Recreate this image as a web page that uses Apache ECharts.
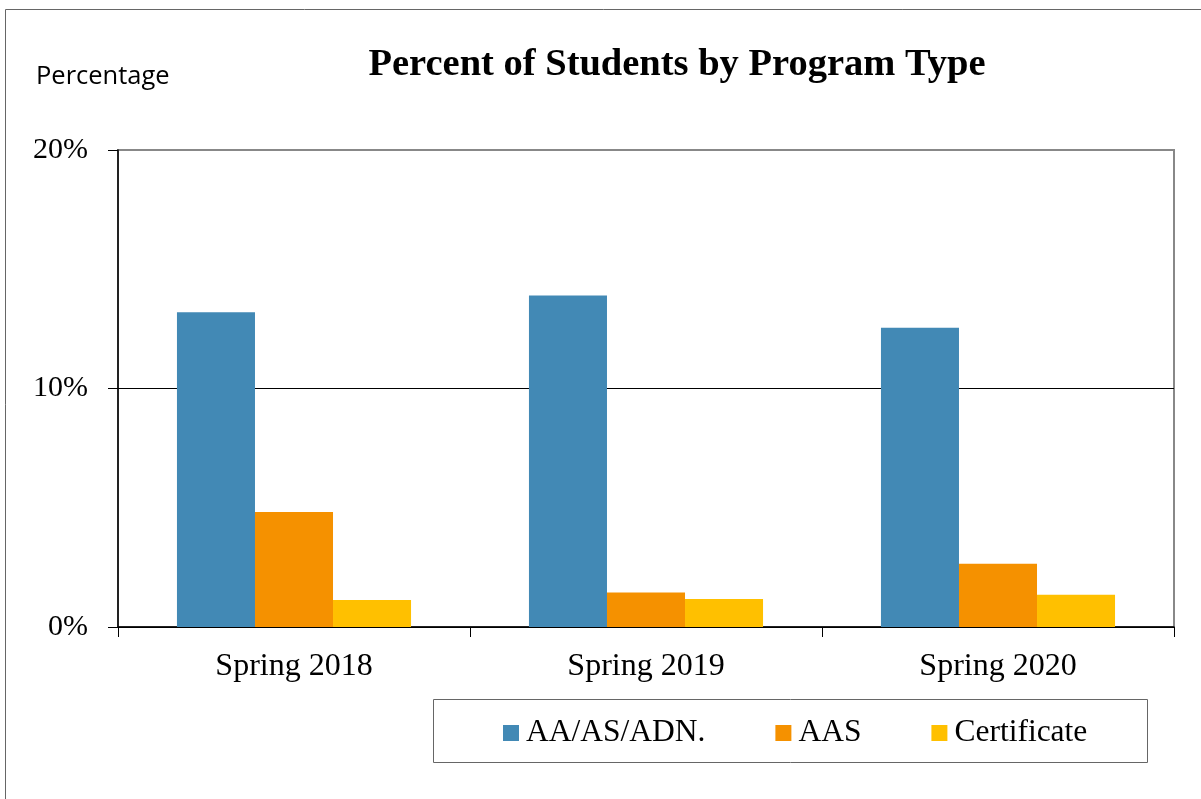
<!DOCTYPE html>
<html lang="en">
<head>
    <meta charset="UTF-8">
    <title>Percent of Students by Program Type</title>
    <style>
        html, body { margin: 0; padding: 0; background: #fff; }
        #chart { width: 1201px; height: 799px; }
    </style>
</head>
<body>
    <div id="chart"></div>
    <script src="https://cdn.jsdelivr.net/npm/echarts@6/dist/echarts.min.js"></script>
    <script type="text/javascript">
        // data
        var categories = ['Spring 2018', 'Spring 2019', 'Spring 2020'];
        var seriesNames = ['AA/AS/ADN.', 'AAS', 'Certificate'];
        var aaValues = [13.2, 13.9, 12.55];
        var aasValues = [4.82, 1.45, 2.65];
        var certValues = [1.13, 1.17, 1.35];
        var colors = ['#4289B5', '#F59100', '#FFC000'];

        var serif = '"Liberation Serif", "Times New Roman", serif';

        var chart = echarts.init(document.getElementById('chart'));
        chart.setOption({
            animation: false,
            color: colors,
            title: {
                text: 'Percent of Students by Program Type',
                left: 672,
                top: 41,
                textAlign: 'center',
                textStyle: { fontFamily: serif, fontWeight: 'bold', fontSize: 38.5, color: '#000' }
            },
            graphic: [
                // outer frame
                { type: 'rect', shape: { x: 5.5, y: 9.5, width: 1210, height: 800 },
                  style: { fill: 'none', stroke: '#666', lineWidth: 1 }, z: -1 },
                // legend frame
                { type: 'rect', shape: { x: 433.5, y: 699.5, width: 714, height: 63 },
                  style: { fill: 'none', stroke: '#666', lineWidth: 1 } },
                { type: 'text', left: 36, top: 64,
                  style: { text: 'Percentage', fontFamily: '"Open Sans", sans-serif', fontSize: 25.5, fill: '#000' } }
            ],
            legend: {
                data: seriesNames,
                left: 503,
                top: 717,
                padding: 0,
                icon: 'rect',
                itemWidth: 16,
                itemHeight: 16,
                itemGap: 70,
                textStyle: { fontFamily: serif, fontSize: 31.5, color: '#000', padding: [0, 0, 0, 2] }
            },
            grid: {
                left: 118, top: 150, right: 27, bottom: 172,
                show: true, borderColor: '#888', borderWidth: 2, backgroundColor: 'transparent'
            },
            xAxis: {
                type: 'category',
                data: categories,
                axisLine: { lineStyle: { color: '#000', width: 1.5 } },
                axisTick: { show: true, length: 10, alignWithLabel: false, lineStyle: { color: '#000' } },
                axisLabel: { fontFamily: serif, fontSize: 32, color: '#000', margin: 24 }
            },
            yAxis: {
                type: 'value',
                min: 0, max: 20, interval: 10,
                axisLine: { show: true, lineStyle: { color: '#000', width: 1.5 } },
                axisTick: { show: true, length: 10, lineStyle: { color: '#000' } },
                axisLabel: { formatter: '{value}%', fontFamily: serif, fontSize: 30, color: '#000', margin: 30 },
                splitLine: { show: true, lineStyle: { color: ['#000', '#000', '#888'], width: 1 } }
            },
            series: [
                { name: seriesNames[0], type: 'bar', data: aaValues, barGap: '0%', barCategoryGap: '33.5%' },
                { name: seriesNames[1], type: 'bar', data: aasValues, barGap: '0%', barCategoryGap: '33.5%' },
                { name: seriesNames[2], type: 'bar', data: certValues, barGap: '0%', barCategoryGap: '33.5%' }
            ]
        });
    </script>
</body>
</html>
